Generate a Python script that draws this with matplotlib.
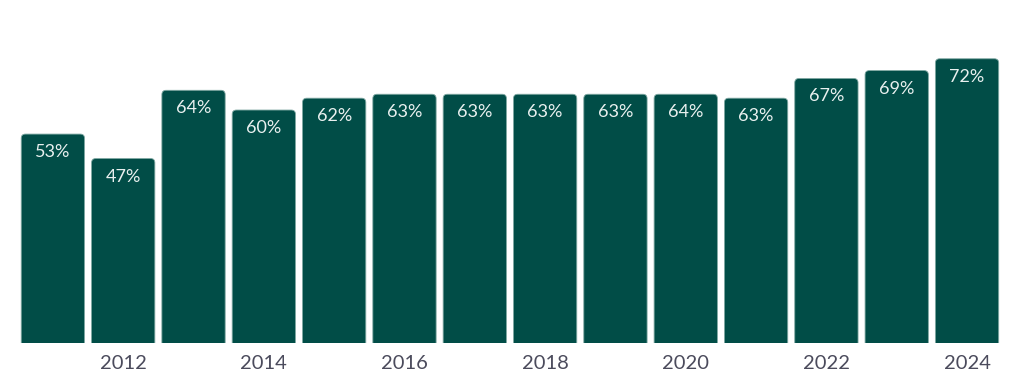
import matplotlib.pyplot as plt
from matplotlib.patches import FancyBboxPatch

# data
years = [2011, 2012, 2013, 2014, 2015, 2016, 2017, 2018, 2019, 2020, 2021, 2022, 2023, 2024]
values = [52.9, 46.7, 64.0, 59.0, 62.0, 63.0, 63.0, 63.0, 63.0, 63.0, 62.0, 67.0, 69.0, 72.0]
pct_labels = ['53%', '47%', '64%', '60%', '62%', '63%', '63%', '63%', '63%', '64%', '63%', '67%', '69%', '72%']
tick_years = [2012, 2014, 2016, 2018, 2020, 2022, 2024]

bar_color = '#014d47'

fig = plt.figure(figsize=(10.24, 3.9), dpi=100)
ax = fig.add_axes([0, 0.1213, 1, 0.8787])

x = list(range(len(years)))
bars = ax.bar(x, values, width=0.9, color='none')

ax.set_xlim(-0.752, 13.81)
ax.set_ylim(0, 86.9)

# aspect between data units in y and x (pixels per unit)
px_x = 1024 / (13.81 + 0.752)
px_y = 0.8787 * 390 / 86.9
for b, lab in zip(bars, pct_labels):
    # rounded top corners; the bottom ones sit below the axis and get clipped
    patch = FancyBboxPatch((b.get_x(), -3), b.get_width(), b.get_height() + 3,
                           boxstyle='round,pad=0,rounding_size=0.06',
                           mutation_aspect=px_x / px_y,
                           facecolor=bar_color, edgecolor='#7fa8a2', linewidth=0.6)
    ax.add_patch(patch)
    ax.text(b.get_x() + b.get_width() / 2, b.get_height() - 18 / px_y, lab,
            ha='center', va='center', color='#e9f0ef', fontsize=13, family='Lato')

ax.set_xticks([years.index(y) for y in tick_years])
ax.set_xticklabels([str(y) for y in tick_years], fontsize=14.5, family='Lato', color='#4b4b5c')
ax.tick_params(axis='x', length=0, pad=9)
ax.set_yticks([])
for s in ax.spines.values():
    s.set_visible(False)

fig.savefig('out.png', dpi=100)
